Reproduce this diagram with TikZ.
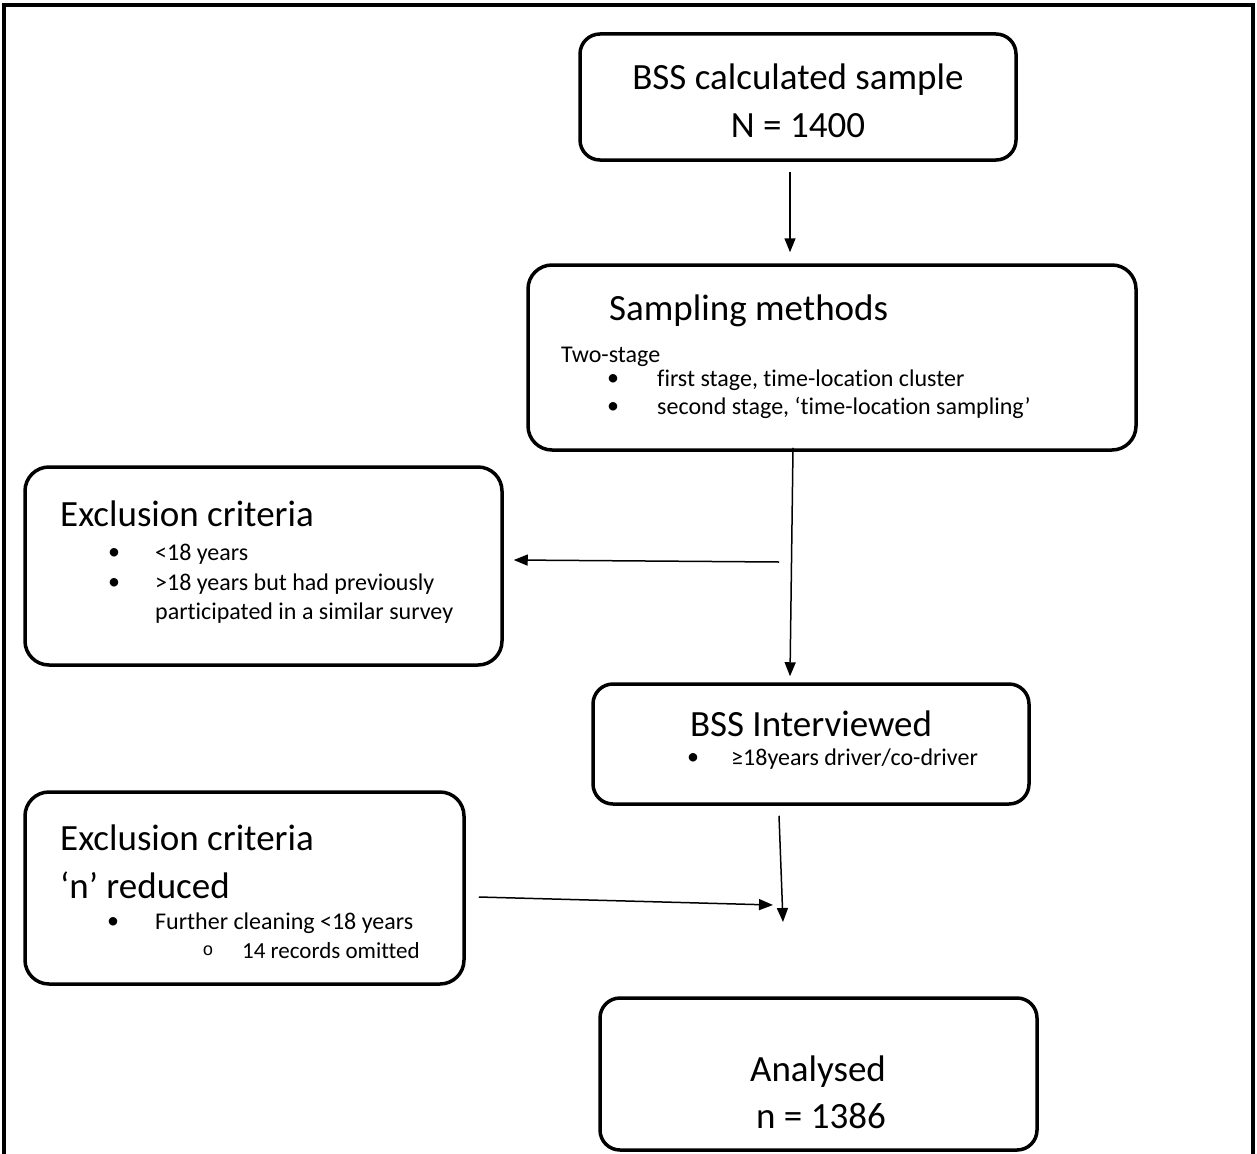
\documentclass[tikz,border=0pt]{standalone}
\usepackage{fontspec}
\setmainfont{Carlito}[Ligatures=NoCommon]
\newfontfamily\monofnt{Liberation Mono}
\usetikzlibrary{arrows.meta,calc}
\begin{document}
\begin{tikzpicture}[x=1pt,y=-1pt,
 box/.style={draw, line width=3.5pt, rounded corners=24pt, inner sep=0pt},
 head/.style={inner sep=0pt, font=\fontsize{37}{44}\selectfont},
 small/.style={inner sep=0pt, font=\fontsize{24}{29}\selectfont},
 smaller/.style={inner sep=0pt, font=\fontsize{23}{27}\selectfont},
 arr/.style={line width=1.5pt, -{Triangle[length=14pt,width=11pt]}},
]
\useasboundingbox (0,0) rectangle (1257,1153);
\draw[line width=4pt] (4,1160) -- (4,5) -- (1253,5) -- (1253,1160);

% boxes
\node[box, rounded corners=20pt, minimum width=436pt, minimum height=126pt] (b1) at (798,97) {};
\node[box, minimum width=608pt, minimum height=185pt] (b2) at (832,357.5) {};
\node[box, minimum width=477pt, minimum height=198pt] (b3) at (263.5,566) {};
\node[box, rounded corners=20pt, minimum width=436pt, minimum height=120pt] (b4) at (811,744) {};
\node[box, minimum width=439pt, minimum height=192pt] (b5) at (244.5,888) {};
\node[box, rounded corners=20pt, minimum width=437pt, minimum height=152pt] (b6) at (818.5,1074) {};

% texts box 1
\node[head] (t1a) at (798,80) {BSS calculated sample};
\node[head] (t1b) at (798,126) {N = 1400};

% box 2
\node[head, anchor=west] (t2a) at (609,311) {Sampling methods};
\node[small, anchor=west] (t2b) at (561,357) {Two-stage};
\node[small] (t2c) at (613,380) {•};
\node[small, anchor=west] (t2d) at (657,380) {first stage, time-location cluster};
\node[small] (t2e) at (613,408) {•};
\node[small, anchor=west] (t2f) at (657,408) {second stage, ‘time-location sampling’};

% box 3
\node[head, anchor=west] (t3a) at (60,514) {Exclusion criteria};
\node[small] (t3b) at (114,554) {•};
\node[small, anchor=west] (t3c) at (155,554) {<18 years};
\node[small] (t3d) at (114,584) {•};
\node[small, anchor=west] (t3e) at (155,584) {>18 years but had previously};
\node[small, anchor=west] (t3f) at (155,613) {participated in a similar survey};

% box 4
\node[head] (t4a) at (811,724) {BSS Interviewed};
\node[small] (t4b) at (693,759) {•};
\node[small, anchor=west] (t4c) at (731,759) {≥18years driver/co-driver};

% box 5
\node[head, anchor=west] (t5a) at (60,838) {Exclusion criteria};
\node[head, anchor=west] (t5b) at (60,885) {‘n’ reduced};
\node[small] (t5c) at (113,923) {•};
\node[small, anchor=west] (t5d) at (155,923) {Further cleaning <18 years};
\node[inner sep=0pt, font=\monofnt\fontsize{18}{20}\selectfont] (t5e) at (208,951) {o};
\node[smaller, anchor=west] (t5f) at (242,951) {14 records omitted};

% box 6
\node[head] (t6a) at (818,1072) {Analysed};
\node[head] (t6b) at (821,1116) {n = 1386};

% free ends
\coordinate (j1) at (779,562);
\coordinate (j2) at (783,922);
\coordinate (j3) at (773,905);

% connectors
\draw[arr] ($(b1.south)+(-8,10)$) -- ($(b2.north)+(-42,-11)$);
\draw[arr] ($(b2.south)+(-39,-4)$) -- ($(b4.north)+(-21,-6)$);
\draw[arr] (j1) -- ($(b3.east)+(10,-6)$);
\draw[arr] ($(b4.south)+(-32,10)$) -- (j2);
\draw[arr] ($(b5.east)+(13,9)$) -- (j3);
\end{tikzpicture}
\end{document}
